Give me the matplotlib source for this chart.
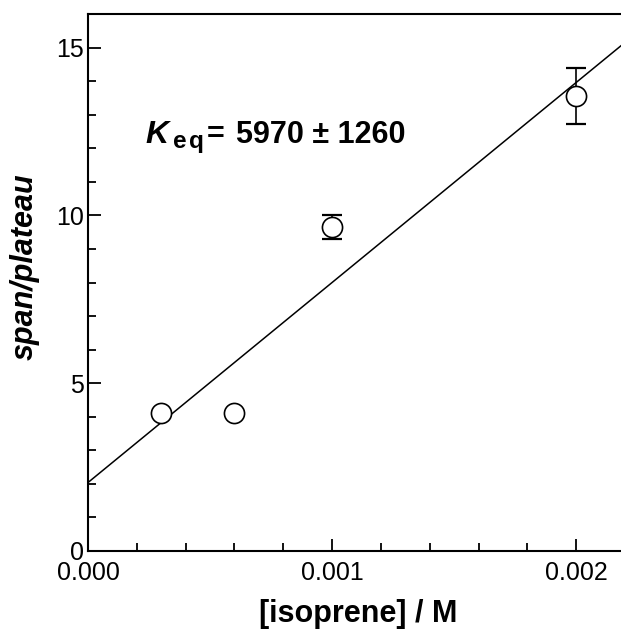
import matplotlib
matplotlib.use("Agg")
import matplotlib.pyplot as plt
import matplotlib.transforms as mtransforms
import numpy as np

plt.rcParams['font.family'] = ['Liberation Sans', 'DejaVu Sans']

# data
conc = [0.0003, 0.0006, 0.001, 0.002]
ratio = [4.10, 4.10, 9.65, 13.55]
ratio_err = [0.0, 0.0, 0.36, 0.84]
fit_intercept = 2.04
fit_slope = 5960.0
xlim = (0.0, 0.0022)
ylim = (0.0, 16.0)
xticks = [0.000, 0.001, 0.002]
xticklabels = ['0.000', '0.001', '0.002']
yticks = [0, 5, 10, 15]
keq_eq = '='
keq_text = '5970 \u00b1 1260'

fig = plt.figure(figsize=(6.21, 6.36), dpi=100)
ax = fig.add_axes([88/621, 85/636, 537/621, 537/636])

xf = np.array(xlim)
ax.plot(xf, fit_intercept + fit_slope * xf, color='black', lw=1.1, zorder=2)

err_idx = [i for i, e in enumerate(ratio_err) if e > 0]
ax.errorbar([conc[i] for i in err_idx], [ratio[i] for i in err_idx],
            yerr=[ratio_err[i] for i in err_idx], fmt='none', ecolor='black',
            elinewidth=1.2, capsize=7.5, capthick=1.6, zorder=3)
ax.plot(conc, ratio, 'o', ms=14.5, mfc='white', mec='black', mew=1.2, zorder=4, ls='none')

ax.set_xlim(*xlim)
ax.set_ylim(*ylim)
ax.set_xticks(xticks)
ax.set_xticklabels(xticklabels)
ax.set_yticks(yticks)
ax.set_xticks(np.arange(0, 0.00221, 0.0002), minor=True)
ax.set_yticks(np.arange(0, 16.1, 1), minor=True)
ax.tick_params(which='major', direction='in', length=9, width=1.3, labelsize=18)
ax.tick_params(axis='x', which='major', pad=7)
ax.tick_params(axis='y', which='major', pad=3)
ax.tick_params(which='minor', direction='in', length=5.5, width=1.3)

for s in ['left', 'bottom', 'top']:
    ax.spines[s].set_linewidth(1.5)
ax.spines['right'].set_visible(False)

ax.set_xlabel('[isoprene] / M', fontsize=22, fontweight='bold')
ax.xaxis.set_label_coords(0.503, -0.090)
ax.set_ylabel('span/plateau', fontsize=22, fontweight='bold', fontstyle='italic')
ax.yaxis.set_label_coords(-0.090, 0.529)

# K_eq annotation built from pieces (K bold italic, subscript e q, rest bold)
x0, y0 = 0.000234, 12.17
ax.text(x0, y0, 'K', fontsize=23, fontweight='bold', fontstyle='italic',
        ha='left', va='baseline')
t_e = mtransforms.offset_copy(ax.transData, fig=fig, x=28, y=-5, units='dots')
ax.text(x0, y0, 'e', fontsize=17.5, fontweight='bold', ha='left', va='baseline', transform=t_e)
t_q = mtransforms.offset_copy(ax.transData, fig=fig, x=44, y=-5, units='dots')
ax.text(x0, y0, 'q', fontsize=17.5, fontweight='bold', ha='left', va='baseline', transform=t_q)
t_eq = mtransforms.offset_copy(ax.transData, fig=fig, x=62, y=0, units='dots')
ax.text(x0, y0, keq_eq, fontsize=22, fontweight='bold', ha='left', va='baseline', transform=t_eq)
t_r = mtransforms.offset_copy(ax.transData, fig=fig, x=91, y=0, units='dots')
ax.text(x0, y0, keq_text, fontsize=22, fontweight='bold', ha='left', va='baseline', transform=t_r)

fig.savefig('out.png', dpi=100)
